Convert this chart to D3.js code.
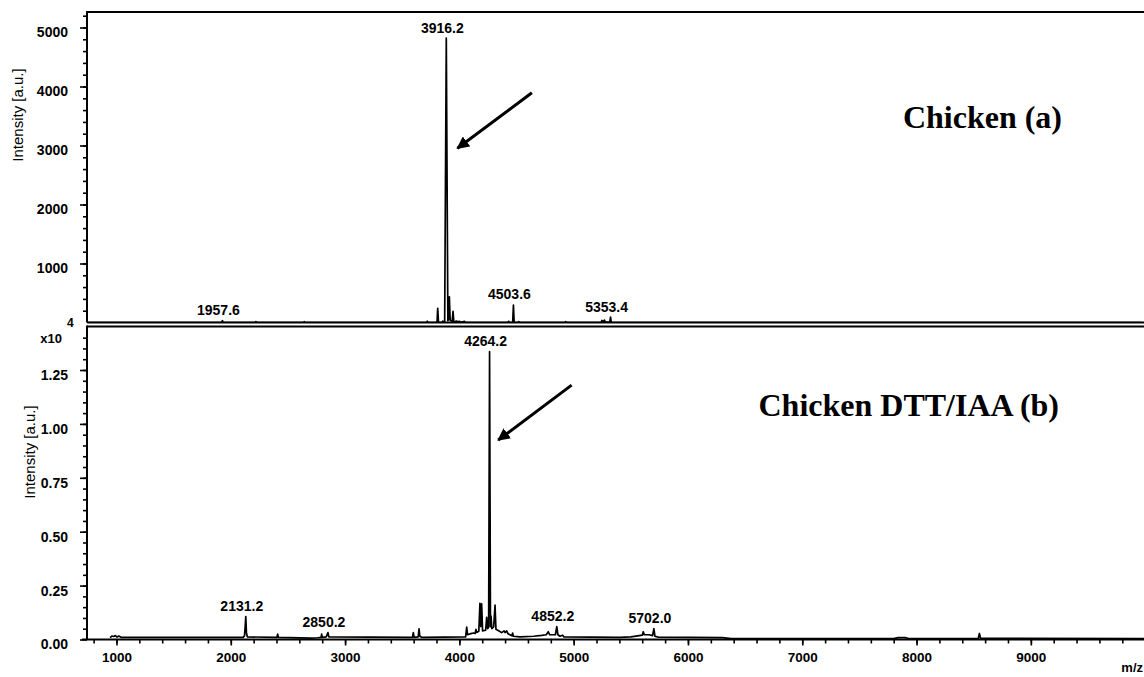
<!DOCTYPE html>
<html><head><meta charset="utf-8">
<script src="https://cdn.jsdelivr.net/npm/d3@7"></script>
<style>
body{margin:0;background:#fff}
svg{display:block}
.tick text{font-family:"Liberation Sans",Arial,sans-serif;font-weight:bold;fill:#000}
</style>
</head><body>
<svg id="chart" width="1144" height="677"></svg>
<script>
// ---------- data ----------
// Panel (a): Chicken, intensity in a.u.
const topMz  = [742,1950,1957.6,1965,2245,2251,2257,2668,2673,2678,3745,3750,3755,3835,3841,3848,3880,3885,3890,3902,3916.2,3930,3936,3943,3950,3968,3975,3982,3995,4005,4015,4030,4045,4075,4085,4455,4462,4470,4497,4503.6,4510,4545,4552,4558,4955,4961,4967,5270,5278,5285,5300,5308,5346,5353.4,5360,10000];
const topInt = [0,0,30,0,0,15,0,0,14,0,0,22,0,0,240,0,0,25,5,10,4820,30,60,434,40,20,190,10,15,25,10,20,5,18,0,0,20,0,0,297,0,0,15,0,0,15,0,0,35,5,40,5,5,93,0,0];
// Panel (b): Chicken DTT/IAA, intensity in x10^4 a.u.
const botMz  = [944,960,975,990,1005,1020,1040,2110,2120,2126,2131.2,2137,2145,2404,2410,2416,2700,2760,2790,2795,2800,2835,2850.2,2858,3590,3597,3604,3640,3647,3654,3670,4055,4064,4072,4100,4125,4138,4145,4152,4170,4180,4187,4195,4203,4230,4239,4248,4256,4264.2,4272,4277,4284,4300,4312,4320,4340,4370,4391,4400,4414,4425,4460,4466,4472,4530,4650,4720,4760,4778,4790,4840,4852.2,4862,4880,4904,4915,5400,5500,5560,5600,5609,5618,5660,5690,5702,5711,5740,6300,6380,7800,7840,7900,7930,8540,8550,8560,9990];
const botInt = [0.009,0.016,0.014,0.018,0.011,0.016,0.01,0.01,0.017,0.06,0.106,0.03,0.012,0.01,0.025,0.01,0.006,0.008,0.01,0.025,0.01,0.012,0.032,0.012,0.01,0.032,0.01,0.012,0.049,0.015,0.01,0.012,0.057,0.022,0.027,0.03,0.028,0.047,0.033,0.038,0.168,0.06,0.165,0.04,0.043,0.103,0.05,0.058,1.335,0.06,0.109,0.05,0.058,0.159,0.048,0.042,0.032,0.04,0.032,0.04,0.027,0.017,0.03,0.015,0.012,0.015,0.019,0.022,0.036,0.022,0.022,0.06,0.022,0.015,0.02,0.012,0.01,0.012,0.017,0.02,0.036,0.022,0.022,0.018,0.05,0.015,0.011,0.009,0.004,0.004,0.009,0.009,0.004,0.005,0.028,0.005,0.004];

const topLabels = [1957.6, 3916.2, 4503.6, 5353.4];
const botLabels = [2131.2, 2850.2, 4264.2, 4852.2, 5702.0];

const topYTicks = [1000,2000,3000,4000,5000];
const botYTicks = [0.00,0.25,0.50,0.75,1.00,1.25];
const xTicks = [1000,2000,3000,4000,5000,6000,7000,8000,9000];

// arrows: [tailMz, tailInt, tipMz, tipInt]
const topArrow = [4665, 3895, 4014, 2953];
const botArrow = [4982, 1.18, 4340, 0.925];

const titleA = "Chicken (a)";
const titleB = "Chicken DTT/IAA (b)";

// ---------- layout ----------
const svg = d3.select("#chart");
const W = 1144;
const x = d3.scaleLinear().domain([742, 9990]).range([87, 1144]);
const xTop = d3.scaleLinear().domain([742, 9990]).range([83.5, 1140.5]);
const yTop = d3.scaleLinear().domain([0, 5000]).range([322.5, 27.5]);
const yBot = d3.scaleLinear().domain([0, 1.25]).range([639.5, 370]);
const axisX = 87;
const topFrameY = 12, botFrameY = 326.5;

const defs = svg.append("defs");
defs.append("clipPath").attr("id","clipTop").append("rect")
  .attr("x", axisX+1).attr("y", topFrameY).attr("width", W).attr("height", yTop(0)-topFrameY);
defs.append("clipPath").attr("id","clipBot").append("rect")
  .attr("x", axisX+1).attr("y", botFrameY).attr("width", W).attr("height", yBot(0)-botFrameY);
const mk = defs.append("marker").attr("id","arrowhead").attr("viewBox","0 0 10 10")
  .attr("refX", 9).attr("refY", 5).attr("markerWidth", 4.2).attr("markerHeight", 4.2)
  .attr("markerUnits","strokeWidth").attr("orient","auto");
mk.append("path").attr("d","M0,0 L10,5 L0,10 Z").attr("fill","#000");

const labelFont = '"Liberation Sans",Arial,sans-serif';

// ---------- spectra ----------
function drawSpectrum(mz, inten, xs, ys, clip) {
  const pts = mz.map((m,i)=>[m, inten[i]]);
  const line = d3.line().x(d=>xs(d[0])).y(d=>ys(d[1]));
  svg.append("path").datum(pts).attr("d", line).attr("clip-path", `url(#${clip})`)
    .attr("fill","none").attr("stroke","#000").attr("stroke-width",1.7).attr("stroke-linejoin","round");
  return pts;
}
const topPts = drawSpectrum(topMz, topInt, xTop, yTop, "clipTop");
const botPts = drawSpectrum(botMz, botInt, x, yBot, "clipBot");

function peakLabels(labels, pts, xs, ys) {
  labels.forEach(m => {
    const near = pts.filter(p => Math.abs(p[0]-m) <= 15);
    const h = d3.max(near, p=>p[1]);
    svg.append("text").attr("x", xs(m)-4).attr("y", ys(h)-5.5)
      .attr("text-anchor","middle").attr("font-family", labelFont)
      .attr("font-size", 14).attr("font-weight","bold").text(m.toFixed(1));
  });
}
peakLabels(topLabels, topPts, xTop, yTop);
peakLabels(botLabels, botPts, x, yBot);

// ---------- axes ----------
function range(a, b, s){ const r=[]; for(let v=a; v<=b+1e-9; v+=s) r.push(+v.toFixed(4)); return r; }

const gTopMinor = svg.append("g").attr("transform",`translate(${axisX},0)`)
  .call(d3.axisLeft(yTop).tickValues(range(200,5200,200)).tickSize(4).tickSizeOuter(0).tickFormat(""));
const gTop = svg.append("g").attr("transform",`translate(${axisX},0)`)
  .call(d3.axisLeft(yTop).tickValues(topYTicks).tickSize(7).tickPadding(12).tickSizeOuter(0).tickFormat(d3.format("d")));
const gBotMinor = svg.append("g").attr("transform",`translate(${axisX},0)`)
  .call(d3.axisLeft(yBot).tickValues(range(0.05,1.40,0.05)).tickSize(4).tickSizeOuter(0).tickFormat(""));
const gBot = svg.append("g").attr("transform",`translate(${axisX},0)`)
  .call(d3.axisLeft(yBot).tickValues(botYTicks).tickSize(7).tickPadding(12).tickSizeOuter(0).tickFormat(d3.format(".2f")));
const gXMinor = svg.append("g").attr("transform",`translate(0,${yBot(0)})`)
  .call(d3.axisBottom(x).tickValues(range(800,9800,200)).tickSize(4).tickSizeOuter(0).tickFormat(""));
const gX = svg.append("g").attr("transform",`translate(0,${yBot(0)})`)
  .call(d3.axisBottom(x).tickValues(xTicks).tickSize(6).tickPadding(7).tickSizeOuter(0).tickFormat(d3.format("d")));

[gTopMinor,gTop,gBotMinor,gBot,gXMinor,gX].forEach(g=>{
  g.select(".domain").remove();
  g.selectAll(".tick line").attr("stroke","#000").attr("stroke-width",1.6);
});
gTop.selectAll(".tick text").attr("y", 5).attr("font-size", 14);
gBot.selectAll(".tick text").attr("y", 5).attr("font-size", 14);
gX.selectAll(".tick text").attr("font-size", 13.5);

// frame lines
const frame = svg.append("g").attr("stroke","#000").attr("stroke-width",2).attr("fill","none");
frame.append("line").attr("x1",axisX).attr("x2",W).attr("y1",topFrameY).attr("y2",topFrameY);
frame.append("line").attr("x1",axisX).attr("x2",axisX).attr("y1",topFrameY-1).attr("y2",yTop(0));
frame.append("line").attr("x1",axisX).attr("x2",W).attr("y1",yTop(0)).attr("y2",yTop(0));
frame.append("line").attr("x1",axisX).attr("x2",W).attr("y1",botFrameY).attr("y2",botFrameY);
frame.append("line").attr("x1",axisX).attr("x2",axisX).attr("y1",botFrameY-1).attr("y2",yBot(0));
frame.append("line").attr("x1",axisX-5).attr("x2",W).attr("y1",yBot(0)).attr("y2",yBot(0));

// axis titles
svg.append("text").attr("transform",`translate(23,115) rotate(-90)`).attr("text-anchor","middle")
  .attr("font-family",labelFont).attr("font-size",15).text("Intensity [a.u.]");
svg.append("text").attr("transform",`translate(35,452) rotate(-90)`).attr("text-anchor","middle")
  .attr("font-family",labelFont).attr("font-size",15).text("Intensity [a.u.]");
svg.append("text").attr("x",62).attr("y",343).attr("text-anchor","end")
  .attr("font-family",labelFont).attr("font-size",13).attr("font-weight","bold").text("x10");
svg.append("text").attr("x",67).attr("y",327)
  .attr("font-family",labelFont).attr("font-size",12).attr("font-weight","bold").text("4");
svg.append("text").attr("x",1143).attr("y",672).attr("text-anchor","end")
  .attr("font-family",labelFont).attr("font-size",13).attr("font-weight","bold").text("m/z");

// arrows
function arrow(a, xs, ys){
  svg.append("line").attr("x1",xs(a[0])).attr("y1",ys(a[1])).attr("x2",xs(a[2])).attr("y2",ys(a[3]))
    .attr("stroke","#000").attr("stroke-width",3).attr("marker-end","url(#arrowhead)");
}
arrow(topArrow, xTop, yTop);
arrow(botArrow, x, yBot);

// panel titles
const serif = '"Liberation Serif","Times New Roman",serif';
svg.append("text").attr("x",1062).attr("y",128).attr("text-anchor","end")
  .attr("font-family",serif).attr("font-weight","bold").attr("font-size",32).text(titleA);
svg.append("text").attr("x",1059).attr("y",416).attr("text-anchor","end")
  .attr("font-family",serif).attr("font-weight","bold").attr("font-size",32).text(titleB);
</script>
</body></html>
